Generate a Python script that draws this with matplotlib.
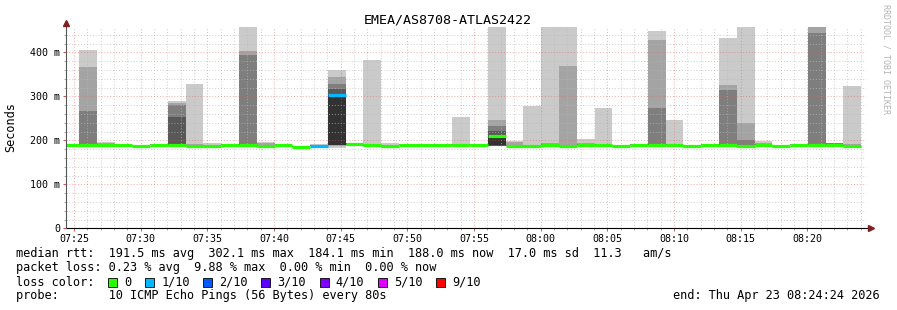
import numpy as np
import matplotlib.pyplot as plt
from matplotlib.patches import Rectangle

# x axis is minutes after graph start (07:24:24), one probe step every 80 s
step_min = 80 / 60
first_step = -0.358

time_labels = ['07:25', '07:30', '07:35', '07:40', '07:45', '07:50',
               '07:55', '08:00', '08:05', '08:10', '08:15', '08:20']
y_labels = ['0', '100 m', '200 m', '300 m', '400 m']

# median rtt per step (ms) and lost pings per step
median_ms = [190, 190, 190, 190, 187, 190, 190, 188, 187, 190, 190, 187, 190, 185, 188,
             302, 192, 189, 186, 190, 189, 189, 190, 190, 210, 188, 186, 190, 186, 190,
             190, 187, 190, 190, 190, 187, 190, 190, 186, 190, 186, 190, 190, 190, 188]
loss = [0, 0, 0, 0, 0, 0, 0, 0, 0, 0, 0, 0, 0, 0, 1,
        1, 0, 0, 0, 0, 0, 0, 0, 0, 0, 0, 0, 0, 0, 0,
        0, 0, 0, 0, 0, 0, 0, 0, 0, 0, 0, 0, 0, 0, 0]

# sorted ping rtts per step (ms), drawn as smoke
pings = [
    [189, 189, 190, 190, 190, 190, 190, 190, 191, 191],
    [188, 189, 189, 190, 190, 190, 191, 266, 366, 405],
    [186, 188, 189, 190, 190, 190, 191, 192, 194, 196],
    [189, 189, 190, 190, 190, 190, 190, 191, 191, 192],
    [185, 186, 186, 187, 187, 187, 187, 188, 188, 189],
    [189, 189, 190, 190, 190, 190, 190, 191, 191, 192],
    [187, 188, 189, 190, 190, 191, 253, 280, 285, 290],
    [186, 187, 187, 188, 188, 188, 189, 190, 191, 328],
    [185, 186, 186, 187, 187, 187, 188, 189, 190, 194],
    [189, 189, 190, 190, 190, 190, 190, 191, 191, 192],
    [188, 189, 189, 190, 190, 191, 192, 394, 402, 470],
    [186, 186, 187, 187, 187, 188, 189, 190, 193, 196],
    [189, 189, 190, 190, 190, 190, 190, 191, 191, 192],
    [183, 184, 184, 185, 185, 186, 186, 187, 187, 188],
    [186, 187, 187, 188, 188, 188, 189, 189, 190, 191],
    [183, 188, 189, 190, 190, 304, 316, 329, 343, 360],
    [187, 188, 190, 191, 192, 192, 193, 193, 194, 194],
    [187, 188, 188, 189, 189, 189, 190, 190, 191, 382],
    [183, 184, 185, 186, 186, 186, 187, 188, 190, 194],
    [189, 189, 190, 190, 190, 190, 190, 191, 191, 192],
    [185, 186, 188, 189, 189, 189, 190, 190, 191, 191],
    [185, 186, 188, 189, 189, 189, 190, 190, 191, 191],
    [188, 189, 189, 190, 190, 190, 191, 191, 192, 253],
    [189, 189, 190, 190, 190, 190, 190, 191, 191, 192],
    [186, 187, 188, 188, 189, 211, 222, 232, 246, 470],
    [186, 187, 187, 188, 188, 188, 189, 190, 196, 199],
    [184, 185, 185, 186, 186, 186, 187, 188, 189, 278],
    [188, 189, 189, 190, 190, 190, 191, 192, 194, 470],
    [184, 185, 185, 186, 186, 187, 187, 188, 369, 470],
    [188, 189, 189, 190, 190, 190, 191, 192, 194, 204],
    [188, 189, 189, 190, 190, 190, 191, 191, 192, 273],
    [185, 186, 186, 187, 187, 187, 188, 188, 189, 190],
    [189, 189, 190, 190, 190, 190, 190, 191, 191, 192],
    [188, 189, 189, 190, 190, 191, 192, 273, 428, 448],
    [186, 188, 189, 190, 190, 190, 191, 191, 192, 246],
    [185, 186, 186, 187, 187, 187, 188, 188, 189, 190],
    [189, 189, 190, 190, 190, 190, 190, 191, 191, 192],
    [186, 188, 189, 190, 190, 191, 192, 314, 325, 432],
    [184, 185, 186, 186, 186, 187, 188, 200, 240, 470],
    [188, 189, 189, 190, 190, 190, 191, 192, 194, 199],
    [184, 185, 185, 186, 186, 186, 187, 187, 188, 189],
    [189, 189, 190, 190, 190, 190, 190, 191, 191, 192],
    [188, 189, 189, 190, 190, 191, 192, 443, 460, 470],
    [186, 188, 189, 190, 190, 190, 191, 194, 195, 195],
    [186, 187, 187, 188, 188, 188, 189, 190, 191, 323],
]

loss_labels = ['0', '1/10', '2/10', '3/10', '4/10', '5/10', '9/10']
loss_colors = ['#26ff00', '#00b8ff', '#0059ff', '#5e00ff', '#7e00ff', '#dd00ff', '#ff0000']
smoke_colors = ['#cacaca', '#a4a4a4', '#7e7e7e', '#585858', '#323232']

stats_rtt = 'median rtt:  191.5 ms avg  302.1 ms max  184.1 ms min  188.0 ms now  17.0 ms sd  11.3   am/s'
stats_loss = 'packet loss: 0.23 % avg  9.88 % max  0.00 % min  0.00 % now'
probe_text = 'probe:       10 ICMP Echo Pings (56 Bytes) every 80s'
end_text = 'end: Thu Apr 23 08:24:24 2026'

W, H = 897, 310
mono = 'DejaVu Sans Mono'
fs = 8.55
fig = plt.figure(figsize=(W / 100, H / 100), dpi=100)
fig.patch.set_facecolor('white')
ax = fig.add_axes([66 / W, (H - 228.3) / H, 800 / W, 201 / H])
ax.set_xlim(0, 60)
ax.set_ylim(0, 457)

starts = first_step + np.arange(len(median_ms)) * step_min
p = np.array(pings)
for i, c in enumerate(smoke_colors):
    ax.bar(starts, p[:, 9 - i] - p[:, i], bottom=p[:, i], width=step_min,
           align='edge', color=c, linewidth=0, zorder=2)

# grid
minor_col = (0.72, 0.72, 0.72, 0.7)
major_col = (0.9, 0.35, 0.35, 0.5)
ls = (0, (1, 2))
for m in range(60):
    x = 0.6 + m
    major = m % 5 == 0
    ax.axvline(x, color=major_col if major else minor_col, lw=0.7, ls=ls, zorder=3)
for v in range(20, 460, 20):
    major = v % 100 == 0
    ax.axhline(v, color=major_col if major else minor_col, lw=0.7, ls=ls, zorder=3)

ax.hlines(median_ms, starts, starts + step_min, colors=[loss_colors[l] for l in loss],
          lw=2.3, zorder=4, capstyle='butt')

# axes with arrows
for s in ax.spines.values():
    s.set_visible(False)
arrow_col = '#7f1f1f'
ax.plot([0, 60.35], [0, 0], color='black', lw=0.8, clip_on=False, zorder=5)
ax.plot([0, 0], [0, 465], color='#555555', lw=0.8, clip_on=False, zorder=5)
ax.plot([60.4], [0], marker='>', ms=4, color=arrow_col, clip_on=False, zorder=6)
ax.plot([0], [466], marker='^', ms=4, color=arrow_col, clip_on=False, zorder=6)

ax.set_xticks([0.6 + 5 * i for i in range(len(time_labels))])
ax.set_xticklabels(time_labels)
ax.set_xticks([0.6 + m for m in range(60)], minor=True)
ax.set_yticks([0, 100, 200, 300, 400])
ax.set_yticklabels(y_labels)
ax.set_yticks(list(range(20, 460, 20)), minor=True)
ax.tick_params(which='major', length=2, width=0.7, color='#dd5050', pad=2,
               labelsize=7.2, labelcolor='black')
ax.tick_params(which='minor', length=1.5, width=0.6, color='#999999')
for lab in ax.get_xticklabels() + ax.get_yticklabels():
    lab.set_family(mono)


def px(x, y):
    return x / W, 1 - y / H


fig.text(*px(448, 20), 'EMEA/AS8708-ATLAS2422', ha='center', va='center',
         fontsize=9.6, family=mono)
fig.text(*px(11, 127), 'Seconds', rotation=90, ha='center', va='center',
         fontsize=fs, family=mono)
fig.text(*px(886, 4), 'RRDTOOL / TOBI OETIKER', rotation=270, ha='center', va='top',
         fontsize=6, family=mono, color='#b4b4b4')

fig.text(*px(16, 254), stats_rtt, va='center', fontsize=fs, family=mono)
fig.text(*px(16, 268), stats_loss, va='center', fontsize=fs, family=mono)
fig.text(*px(16, 282), 'loss color:', va='center', fontsize=fs, family=mono)
fig.text(*px(16, 296), probe_text, va='center', fontsize=fs, family=mono)
fig.text(*px(880, 296), end_text, ha='right', va='center', fontsize=fs, family=mono)

x = 108
for lab, col in zip(loss_labels, loss_colors):
    fig.add_artist(Rectangle(px(x, 287), 9 / W, 9 / H, transform=fig.transFigure,
                             facecolor=col, edgecolor='black', lw=0.6))
    fig.text(*px(x + 16, 282), lab, va='center', fontsize=fs, family=mono)
    x += 16 + len(lab) * 7.05 + 14

fig.savefig('out.png', dpi=100)
